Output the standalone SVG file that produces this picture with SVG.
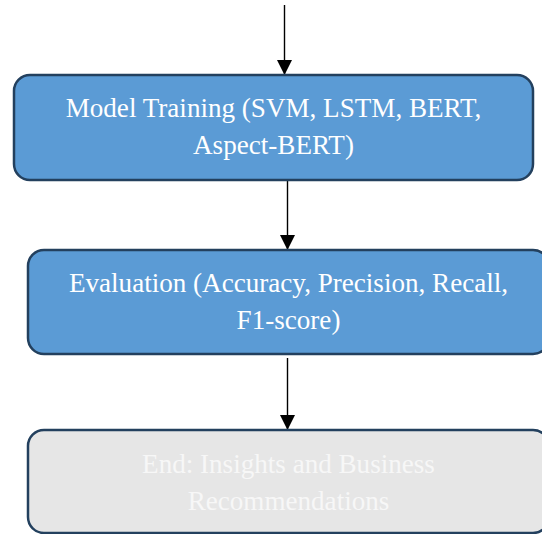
<svg xmlns="http://www.w3.org/2000/svg" width="542" height="534" viewBox="0 0 542 534">
<style>
.box{stroke:#23405e;stroke-width:2.5}
.blue{fill:#5b9bd5}
.gray{fill:#e6e6e6}
.t{font-family:"Liberation Serif","Times New Roman",serif;font-size:27.1px;fill:#ffffff;text-anchor:middle}
.t2{fill:#f7f7f7}
.edge{stroke:#000;stroke-width:1.4;fill:none}
</style>
<defs>
<marker id="ah" markerUnits="userSpaceOnUse" markerWidth="16" markerHeight="16" refX="15" refY="7.5" orient="auto">
<path d="M0,0 L15,7.5 L0,15 Z" fill="#000"/>
</marker>
</defs>
<g id="connectors">
<line class="edge" x1="284.5" y1="5" x2="284.5" y2="75" marker-end="url(#ah)"/>
<line class="edge" x1="287.5" y1="181" x2="287.5" y2="250" marker-end="url(#ah)"/>
<line class="edge" x1="287.5" y1="358" x2="287.5" y2="430" marker-end="url(#ah)"/>
</g>
<g id="node-training">
<rect class="box blue" x="14" y="75" width="519" height="105" rx="16"/>
<text class="t" x="273.5" y="117">Model Training (SVM, LSTM, BERT,</text>
<text class="t" x="273.5" y="153.5">Aspect-BERT)</text>
</g>
<g id="node-evaluation">
<rect class="box blue" x="28" y="250" width="521" height="104" rx="16"/>
<text class="t" x="288.5" y="292">Evaluation (Accuracy, Precision, Recall,</text>
<text class="t" x="288.5" y="328.5">F1-score)</text>
</g>
<g id="node-end">
<rect class="box gray" x="28" y="430" width="521" height="103" rx="16"/>
<text class="t t2" x="288.5" y="473">End: Insights and Business</text>
<text class="t t2" x="288.5" y="509.5">Recommendations</text>
</g>
</svg>
